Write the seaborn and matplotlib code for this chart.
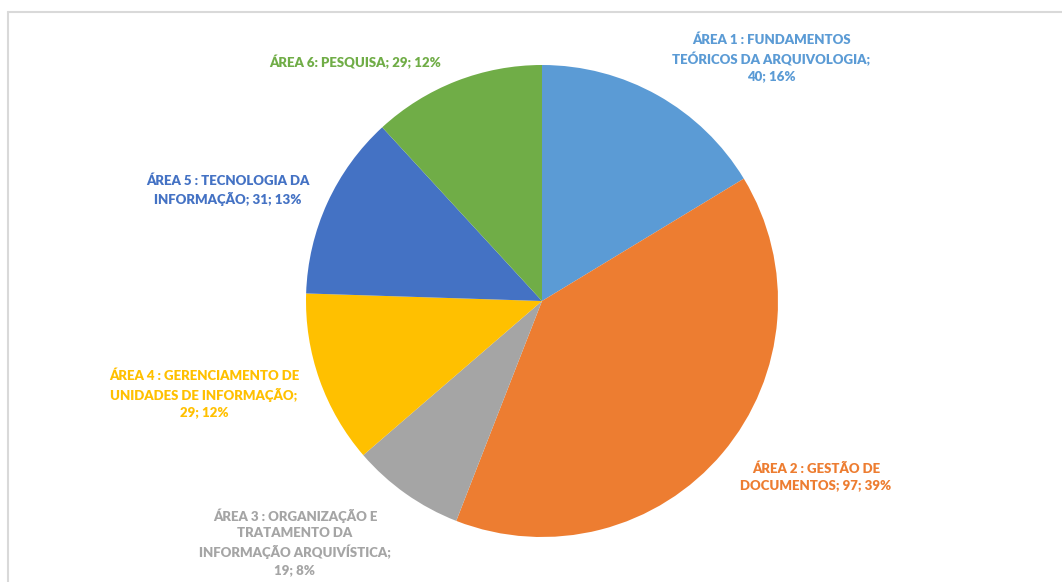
import matplotlib.pyplot as plt
import seaborn as sns
from matplotlib.lines import Line2D

# data
areas = [
    "ÁREA 1 : FUNDAMENTOS\nTEÓRICOS DA ARQUIVOLOGIA;",
    "ÁREA 2 : GESTÃO DE\nDOCUMENTOS;",
    "ÁREA 3 : ORGANIZAÇÃO E\nTRATAMENTO DA\nINFORMAÇÃO ARQUIVÍSTICA;",
    "ÁREA 4 : GERENCIAMENTO DE\nUNIDADES DE INFORMAÇÃO;",
    "ÁREA 5 : TECNOLOGIA DA\nINFORMAÇÃO;",
    "ÁREA 6: PESQUISA;",
]
counts = [40, 97, 19, 29, 31, 29]
percents = [16, 39, 8, 12, 13, 12]
# whether the "n; p%" part goes on its own line
own_line = [True, False, True, True, False, False]

colors = ["#5B9BD5", "#ED7D31", "#A5A5A5", "#FFC000", "#4472C4", "#70AD47"]

# label anchor points (pixels from top-left)
label_pos = [(771, 58), (816, 477), (295, 542), (204, 394), (228, 190), (355, 62)]

sns.set_theme(style="white")
plt.rcParams['font.family'] = ['Lato', 'DejaVu Sans']

W, H = 1062, 582
fig = plt.figure(figsize=(W / 100, H / 100), dpi=100)
fig.patch.set_facecolor("white")

cx, cy, r = 542, 301, 236
ax = fig.add_axes([(cx - r) / W, (H - cy - r) / H, 2 * r / W, 2 * r / H])
ax.pie(counts, colors=colors, startangle=90, counterclock=False,
       wedgeprops=dict(linewidth=0))
ax.set_xlim(-1, 1)
ax.set_ylim(-1, 1)
ax.set_aspect("equal")
ax.axis("off")

# light frame of the chart area (top and left edges visible)
fig.add_artist(Line2D([8 / W, 1.0], [(H - 12) / H] * 2, color="#D9D9D9", lw=1.5,
                      transform=fig.transFigure))
fig.add_artist(Line2D([8 / W] * 2, [0, (H - 12) / H], color="#D9D9D9", lw=1.5,
                      transform=fig.transFigure))

for name, n, p, own, col, (x, y) in zip(areas, counts, percents, own_line, colors, label_pos):
    sep = "\n" if own else " "
    txt = f"{name}{sep}{n}; {p}%"
    fig.text(x / W, (H - y) / H, txt, ha="center", va="center", color=col,
             fontsize=9.5, fontweight="heavy", linespacing=1.45)

plt.savefig("out.png", dpi=100)
